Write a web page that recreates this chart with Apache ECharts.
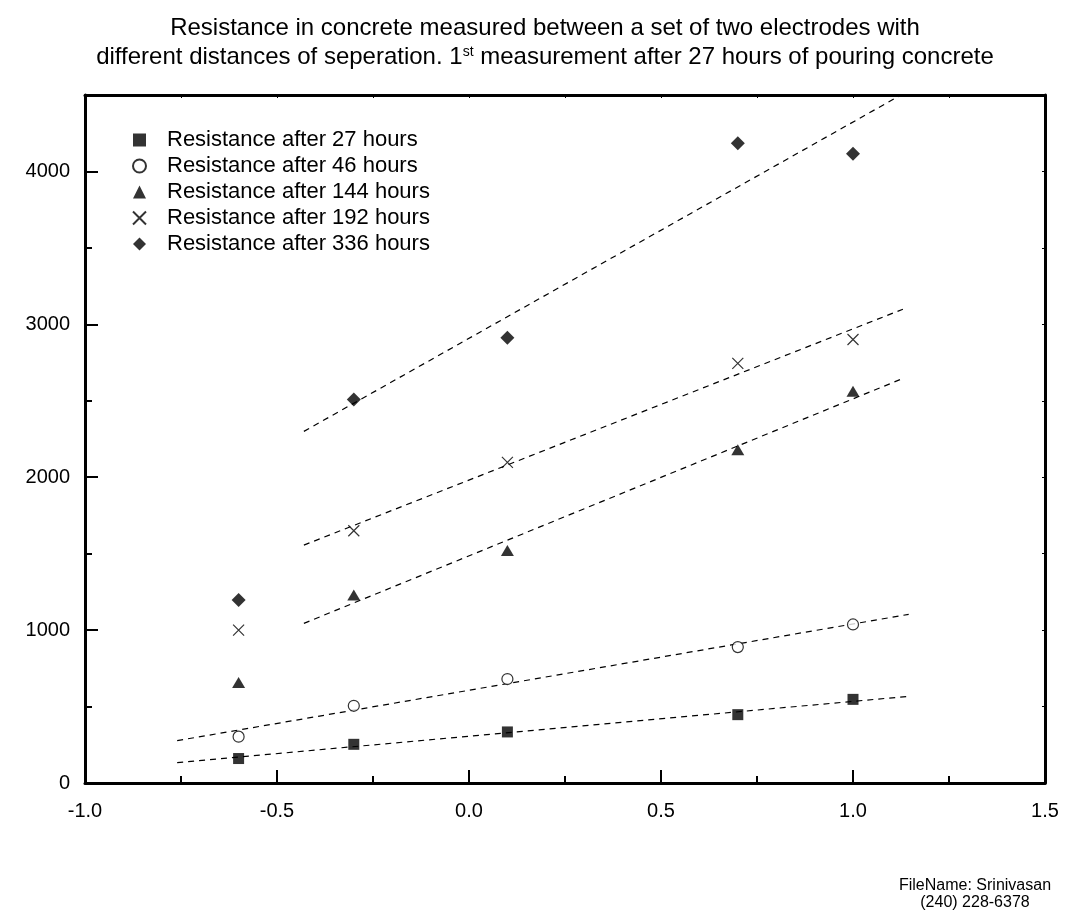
<!DOCTYPE html>
<html>
<head>
<meta charset="utf-8">
<title>Resistance in concrete</title>
<script src="https://cdn.jsdelivr.net/npm/echarts@6/dist/echarts.min.js"></script>
<style>
    html, body { margin: 0; padding: 0; background: #fff; }
    #chart { width: 1065px; height: 916px; }
</style>
</head>
<body>
<div id="chart"></div>
<script>
// distance values (x) shared by all measurements
var distances = [-0.6, -0.3, 0.1, 0.7, 1.0];

var r27 = [160, 253, 334, 447, 547];
var r46 = [303, 505, 680, 889, 1037];
var r144 = [658, 1230, 1520, 2180, 2562];
var r192 = [1000, 1650, 2097, 2745, 2901];
var r336 = [1197, 2508, 2912, 4185, 4115];

// dashed fit lines, [start, end]
var fit27 = [[-0.76, 133], [1.145, 567]];
var fit46 = [[-0.76, 277], [1.145, 1103]];
var fit144 = [[-0.43, 1044], [1.13, 2646]];
var fit192 = [[-0.43, 1556], [1.13, 3099]];
var fit336 = [[-0.43, 2300], [1.125, 4500]];

var seriesNames = [
    'Resistance after 27 hours',
    'Resistance after 46 hours',
    'Resistance after 144 hours',
    'Resistance after 192 hours',
    'Resistance after 336 hours'
];

var xTicks = [-1.0, -0.5, 0.0, 0.5, 1.0, 1.5];
var yTicks = [0, 1000, 2000, 3000, 4000];

var FONT = 'Liberation Sans, Arial, Helvetica, sans-serif';
var CROSS = 'path://M0,0L10,10M10,0L0,10';

var myChart = echarts.init(document.getElementById('chart'), null, { renderer: 'canvas' });

function pairs(ys) {
    return ys.map(function (y, i) { return [distances[i], y]; });
}

var markers = [
    { data: r27, symbol: 'rect', size: 11, style: { color: '#000' } },
    { data: r46, symbol: 'circle', size: 11, style: { color: '#fff', borderColor: '#000', borderWidth: 1.2 } },
    { data: r144, symbol: 'triangle', size: [13, 11], style: { color: '#000' } },
    { data: r192, symbol: CROSS, size: 11, style: { color: 'rgba(0,0,0,0)', borderColor: '#000', borderWidth: 1.2 } },
    { data: r336, symbol: 'diamond', size: 14, style: { color: '#000' } }
];
var fits = [fit27, fit46, fit144, fit192, fit336];

var seriesData = [];

fits.map(function (f) {
    seriesData.push({
        type: 'line',
        data: f,
        showSymbol: false,
        silent: true,
        z: 1,
        lineStyle: { color: '#000', width: 1.2, type: [6, 5] }
    });
});

markers.map(function (m, index) {
    seriesData.push({
        name: seriesNames[index],
        type: 'scatter',
        symbol: m.symbol,
        symbolSize: m.size,
        itemStyle: m.style,
        z: 3,
        data: pairs(m.data)
    });
});

// shared bits of the frame axes
var frameLine = { show: true, onZero: false, lineStyle: { color: '#000', width: 3 } };
var tinyTick = { inside: true, length: 3, lineStyle: { color: '#000', width: 1 } };

var option = {
    animation: false,
    backgroundColor: '#fff',
    title: {
        text: '{t|Resistance in concrete measured between a set of two electrodes with}\n' +
            '{t|different distances of seperation. 1}{sup|st}{t| measurement after 27 hours of pouring concrete}',
        left: 540,
        top: 9,
        textAlign: 'center',
        textStyle: {
            rich: {
                t: { fontFamily: FONT, fontWeight: 'normal', fontSize: 24, lineHeight: 29, color: '#000' },
                sup: { fontFamily: FONT, fontWeight: 'normal', fontSize: 14, lineHeight: 14, verticalAlign: 'top', padding: [2, 0, 0, 0], color: '#000' }
            }
        }
    },
    legend: {
        data: seriesNames,
        orient: 'vertical',
        left: 127,
        top: 124,
        itemWidth: 13,
        itemHeight: 13,
        itemGap: 4,
        selectedMode: false,
        textStyle: { fontFamily: FONT, fontSize: 22, lineHeight: 22, color: '#000', padding: [0, 0, 0, 16] }
    },
    grid: {
        left: 85,
        right: 20,
        top: 95,
        bottom: 133
    },
    xAxis: [{
        type: 'value',
        min: xTicks[0],
        max: xTicks[xTicks.length - 1],
        interval: 0.5,
        position: 'bottom',
        axisLine: frameLine,
        axisTick: { inside: true, length: 13, lineStyle: { color: '#000', width: 2 } },
        minorTick: { show: true, splitNumber: 2, length: 7, lineStyle: { color: '#000', width: 2 } },
        splitLine: { show: false },
        axisLabel: {
            margin: 18,
            color: '#000',
            fontFamily: FONT,
            fontSize: 20,
            formatter: function (v) { return v.toFixed(1); }
        }
    }, {
        type: 'value',
        min: xTicks[0],
        max: xTicks[xTicks.length - 1],
        interval: 0.25,
        position: 'top',
        axisLine: frameLine,
        axisTick: tinyTick,
        splitLine: { show: false },
        axisLabel: { show: false }
    }],
    yAxis: [{
        type: 'value',
        min: 0,
        max: 4500,
        interval: 500,
        position: 'left',
        axisLine: frameLine,
        axisTick: { inside: true, length: 7, lineStyle: { color: '#000', width: 2 } },
        splitLine: { show: false },
        axisLabel: {
            margin: 15,
            color: '#000',
            fontFamily: FONT,
            fontSize: 20,
            formatter: function (v) { return yTicks.indexOf(v) >= 0 ? String(v) : ''; }
        }
    }, {
        // longer ticks on the labelled values
        type: 'value',
        min: 0,
        max: 4500,
        interval: 1000,
        position: 'left',
        axisLine: { show: false, onZero: false },
        axisTick: { inside: true, length: 13, lineStyle: { color: '#000', width: 2 } },
        splitLine: { show: false },
        axisLabel: { show: false }
    }, {
        type: 'value',
        min: 0,
        max: 4500,
        interval: 500,
        position: 'right',
        axisLine: frameLine,
        axisTick: tinyTick,
        splitLine: { show: false },
        axisLabel: { show: false }
    }],
    graphic: [{
        type: 'text',
        x: 975,
        y: 877,
        style: {
            text: 'FileName: Srinivasan\n(240) 228-6378',
            textAlign: 'center',
            fontFamily: FONT,
            fontSize: 16,
            lineHeight: 17,
            fill: '#000'
        }
    }],
    series: seriesData
};

myChart.setOption(option);
</script>
</body>
</html>
